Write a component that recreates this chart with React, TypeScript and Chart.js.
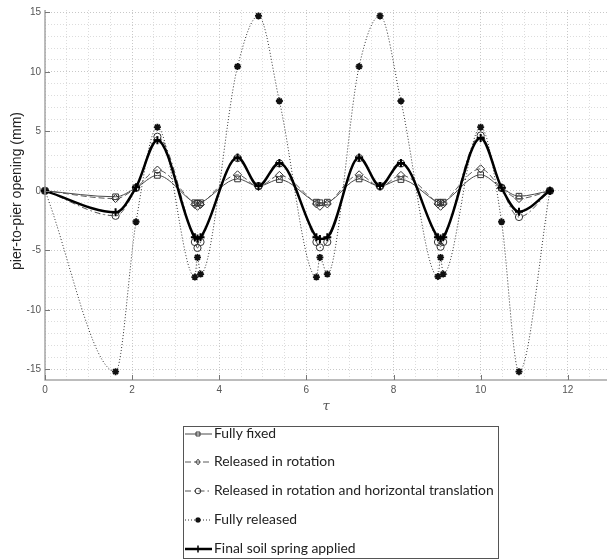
import React, { useEffect, useRef } from 'react';
import { Chart, registerables } from 'chart.js';

Chart.register(...registerables);

// ---- data ----
const tau = [0, 1.62, 2.09, 2.58, 3.44, 3.5, 3.57, 4.42, 4.9, 5.38, 6.23, 6.31, 6.48, 7.21, 7.69, 8.17, 9.02, 9.08, 9.14, 10.0, 10.48, 10.88, 11.59];
const fullyFixed = [0, -0.5, 0.25, 1.3, -1.0, -1.05, -1.0, 1.0, 0.4, 0.95, -0.95, -1.0, -0.95, 1.0, 0.4, 0.95, -0.95, -1.0, -0.95, 1.35, 0.25, -0.45, 0];
const releasedRotation = [0, -0.65, 0.25, 1.75, -1.15, -1.3, -1.15, 1.35, 0.35, 1.3, -1.1, -1.3, -1.1, 1.35, 0.35, 1.3, -1.1, -1.3, -1.1, 1.85, 0.25, -0.65, 0];
const releasedRotTrans = [0, -2.1, 0.25, 4.55, -4.3, -4.8, -4.3, 2.75, 0.4, 2.3, -4.3, -4.75, -4.3, 2.75, 0.4, 2.3, -4.3, -4.7, -4.3, 4.65, 0.25, -2.2, 0];
const fullyReleased = [0, -15.2, -2.6, 5.35, -7.25, -5.6, -7.0, 10.45, 14.7, 7.55, -7.25, -5.6, -7.0, 10.45, 14.7, 7.55, -7.2, -5.6, -7.0, 5.35, -2.6, -15.2, 0];
const finalSpring = [0, -1.8, 0.3, 4.25, -3.9, -4.0, -3.9, 2.8, 0.4, 2.35, -3.9, -4.05, -3.9, 2.8, 0.4, 2.35, -3.9, -4.0, -3.9, 4.45, 0.25, -1.75, 0];

const seriesLabels = [
  'Fully fixed',
  'Released in rotation',
  'Released in rotation and horizontal translation',
  'Fully released',
  'Final soil spring applied',
];
const seriesValues = [fullyFixed, releasedRotation, releasedRotTrans, fullyReleased, finalSpring];

const xTickLabels = [0, 2, 4, 6, 8, 10, 12];
const yTickLabels = [-15, -10, -5, 0, 5, 10, 15];
const xTitle = 'τ';
const yTitle = 'pier-to-pier opening (mm)';

// ---- styles ----
const X_MIN = 0, X_MAX = 12.9, Y_MIN = -15.9, Y_MAX = 15.2;
const X_MINOR = 0.5, Y_MINOR = 1;

const styles = [
  { color: '#4a4a4a', width: 1, dash: [] as number[], point: 'rect', radius: 4, pColor: '#333', pWidth: 1 },
  { color: '#5a5a5a', width: 1, dash: [6, 3], point: 'rectRot', radius: 4, pColor: '#333', pWidth: 1 },
  { color: '#555', width: 1, dash: [6, 3, 1.5, 3], point: 'circle', radius: 3.6, pColor: '#333', pWidth: 1 },
  { color: '#333', width: 1, dash: [1, 2], point: 'star', radius: 3.5, pColor: '#111', pWidth: 1.8 },
  { color: '#000', width: 2.5, dash: [] as number[], point: 'cross', radius: 4, pColor: '#000', pWidth: 2 },
];

function drawMarker(ctx: CanvasRenderingContext2D, type: string, cx: number, cy: number, r: number) {
  ctx.beginPath();
  if (type === 'rect') {
    const s = r * Math.SQRT1_2;
    ctx.rect(cx - s, cy - s, 2 * s, 2 * s);
  } else if (type === 'rectRot') {
    ctx.moveTo(cx, cy - r); ctx.lineTo(cx + r * 0.8, cy); ctx.lineTo(cx, cy + r); ctx.lineTo(cx - r * 0.8, cy); ctx.closePath();
  } else if (type === 'circle') {
    ctx.arc(cx, cy, r, 0, Math.PI * 2);
  } else if (type === 'star') {
    const d = r * Math.SQRT1_2;
    ctx.moveTo(cx - r, cy); ctx.lineTo(cx + r, cy);
    ctx.moveTo(cx, cy - r); ctx.lineTo(cx, cy + r);
    ctx.moveTo(cx - d, cy - d); ctx.lineTo(cx + d, cy + d);
    ctx.moveTo(cx - d, cy + d); ctx.lineTo(cx + d, cy - d);
  } else if (type === 'cross') {
    ctx.moveTo(cx - r, cy); ctx.lineTo(cx + r, cy);
    ctx.moveTo(cx, cy - r); ctx.lineTo(cx, cy + r);
  }
  ctx.stroke();
}

const overlay = {
  id: 'overlay',
  afterDraw(chart: any) {
    const { ctx, chartArea: a, scales } = chart;
    const x = scales.x, y = scales.y;
    ctx.save();
    // axes lines
    ctx.setLineDash([]);
    ctx.strokeStyle = '#a6a6a6';
    ctx.lineWidth = 1.5;
    ctx.beginPath();
    ctx.moveTo(a.left, a.top);
    ctx.lineTo(a.left, a.bottom);
    ctx.lineTo(a.right, a.bottom);
    ctx.stroke();
    // inward tick marks
    ctx.strokeStyle = '#777';
    ctx.lineWidth = 1;
    ctx.beginPath();
    xTickLabels.forEach((v) => {
      const px = Math.round(x.getPixelForValue(v)) + 0.5;
      ctx.moveTo(px, a.bottom); ctx.lineTo(px, a.bottom - 5);
    });
    yTickLabels.forEach((v) => {
      const py = Math.round(y.getPixelForValue(v)) + 0.5;
      ctx.moveTo(a.left, py); ctx.lineTo(a.left + 5, py);
    });
    ctx.stroke();

    // y title
    ctx.fillStyle = '#222';
    ctx.font = '14px "Liberation Sans", Arial, sans-serif';
    ctx.textAlign = 'center';
    ctx.textBaseline = 'middle';
    ctx.save();
    ctx.translate(17, (a.top + a.bottom) / 2 - 4);
    ctx.rotate(-Math.PI / 2);
    ctx.fillText(yTitle, 0, 0);
    ctx.restore();

    // x title
    ctx.fillStyle = '#555';
    ctx.font = 'italic 13px "DejaVu Serif", serif';
    ctx.fillText(xTitle, (a.left + a.right) / 2, 407);

    // legend
    const boxL = 183.5, boxT = 426.5, boxW = 315, boxH = 132;
    ctx.fillStyle = '#fff';
    ctx.fillRect(boxL, boxT, boxW, boxH);
    ctx.strokeStyle = '#555';
    ctx.lineWidth = 1;
    ctx.strokeRect(boxL, boxT, boxW, boxH);
    const rows = [434, 462, 491, 520, 549];
    ctx.font = '14px Lato, "Open Sans", sans-serif';
    const longest = Math.max(...chart.data.datasets.map((d: any) => ctx.measureText(d.label).width));
    const fs = 14 * 280 / longest;
    ctx.font = `${fs.toFixed(2)}px Lato, "Open Sans", sans-serif`;
    chart.data.datasets.forEach((ds: any, i: number) => {
      const st = styles[i];
      const cy = rows[i];
      ctx.strokeStyle = st.color;
      ctx.lineWidth = st.width;
      ctx.setLineDash(st.dash);
      ctx.beginPath();
      ctx.moveTo(185, cy); ctx.lineTo(212, cy);
      ctx.stroke();
      ctx.setLineDash([]);
      ctx.strokeStyle = st.pColor;
      ctx.lineWidth = Math.min(st.pWidth, 1.5);
      ctx.fillStyle = '#fff';
      drawMarker(ctx, st.point, 198, cy, st.point === 'cross' ? 3.5 : 2.8);
      ctx.fillStyle = '#222';
      ctx.textAlign = 'left';
      ctx.textBaseline = 'middle';
      ctx.fillText(ds.label, 214, cy);
    });
    ctx.restore();
  },
};

export default function App() {
  const ref = useRef<HTMLCanvasElement | null>(null);

  useEffect(() => {
    if (!ref.current) return;
    const datasets = seriesValues.map((vals, i) => {
      const st = styles[i];
      return {
        label: seriesLabels[i],
        data: tau.map((t, j) => ({ x: t, y: vals[j] })),
        borderColor: st.color,
        borderWidth: st.width,
        borderDash: st.dash,
        cubicInterpolationMode: 'monotone' as const,
        pointStyle: st.point,
        pointRadius: st.radius,
        pointBorderColor: st.pColor,
        pointBorderWidth: st.pWidth,
        pointBackgroundColor: 'rgba(255,255,255,0)',
        fill: false,
        clip: false as any,
        order: seriesValues.length - i,
      };
    });

    const gridColor = (major: boolean) => (major ? '#c8c8c8' : '#dcdcdc');

    const chart = new Chart(ref.current, {
      type: 'line',
      data: { datasets },
      options: {
        animation: false,
        responsive: false,
        maintainAspectRatio: false,
        layout: { padding: { top: 7, right: 0, left: 0, bottom: 0 } },
        plugins: { legend: { display: false }, tooltip: { enabled: false } },
        scales: {
          x: {
            type: 'linear',
            min: X_MIN,
            max: X_MAX,
            afterBuildTicks: (s: any) => {
              const t = [];
              for (let i = 0; i * X_MINOR <= X_MAX; i++) t.push({ value: i * X_MINOR });
              s.ticks = t;
            },
            afterFit: (s: any) => { s.height = 180; },
            ticks: {
              autoSkip: false,
              maxRotation: 0,
              padding: 4,
              color: '#555',
              font: { family: '"Liberation Sans", Arial, sans-serif', size: 10 },
              callback: (v: any) => (xTickLabels.includes(Number(v)) ? String(v) : ''),
            },
            grid: {
              drawTicks: false,
              lineWidth: 1,
              color: (c: any) => gridColor(xTickLabels.includes(c.tick?.value)),
            },
            border: { display: false, dash: [1, 2] },
          },
          y: {
            type: 'linear',
            min: Y_MIN,
            max: Y_MAX,
            afterBuildTicks: (s: any) => {
              const t = [];
              for (let v = Math.ceil(Y_MIN); v <= Math.floor(Y_MAX); v += Y_MINOR) t.push({ value: v });
              s.ticks = t;
            },
            afterFit: (s: any) => { s.width = 45; },
            ticks: {
              autoSkip: false,
              padding: 4,
              color: '#555',
              font: { family: '"Liberation Sans", Arial, sans-serif', size: 10 },
              callback: (v: any) => (yTickLabels.includes(Number(v)) ? String(v) : ''),
            },
            grid: {
              drawTicks: false,
              lineWidth: 1,
              color: (c: any) => gridColor(yTickLabels.includes(c.tick?.value)),
            },
            border: { display: false, dash: [1, 2] },
          },
        },
      } as any,
      plugins: [overlay],
    });
    return () => chart.destroy();
  }, []);

  return (
    <div style={{ position: 'absolute', left: 0, top: 0, width: 613, height: 560, background: '#fff' }}>
      <canvas ref={ref} width={613} height={560} style={{ display: 'block' }} />
    </div>
  );
}
